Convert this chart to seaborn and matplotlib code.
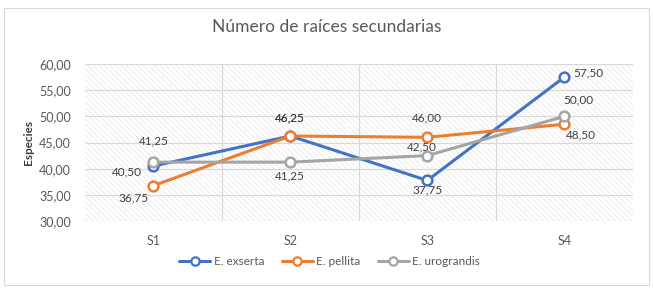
import numpy as np
import pandas as pd
import seaborn as sns
import matplotlib.pyplot as plt
from matplotlib.patches import Rectangle
from matplotlib.lines import Line2D

# data
muestreos = ["S1", "S2", "S3", "S4"]
exserta = [40.50, 46.25, 37.75, 57.50]
pellita = [36.75, 46.25, 46.00, 48.50]
urograndis = [41.25, 41.25, 42.50, 50.00]
especies = ["E. exserta", "E. pellita", "E. urograndis"]
colores = ["#4472C4", "#ED7D31", "#A5A5A5"]

df = pd.DataFrame({
    "Muestreo": muestreos * 3,
    "Valor": exserta + pellita + urograndis,
    "Especie": np.repeat(especies, len(muestreos)),
})

sns.set_style("white")
plt.rcParams["font.family"] = ["Lato", "DejaVu Sans"]
plt.rcParams["hatch.linewidth"] = 0.5

fig = plt.figure(figsize=(6.53, 2.90), dpi=100)
ax = fig.add_axes([0.130, 0.238, 0.839, 0.541])

# hatched plot area
bg = Rectangle((0, 0), 1, 1, transform=ax.transAxes, facecolor="white",
               edgecolor="#e6e6e6", hatch="\\\\\\\\\\\\", linewidth=0, zorder=0)
ax.add_patch(bg)

sns.lineplot(data=df, x="Muestreo", y="Valor", hue="Especie", palette=colores,
             marker="o", markersize=7, markerfacecolor="white", markeredgewidth=1.8,
             linewidth=2.2, ax=ax, legend=False, zorder=3)
for ln in ax.lines:
    ln.set_markeredgecolor(ln.get_color())

ax.set_xlim(-0.5, 3.5)
ax.set_ylim(30, 60)
ax.set_yticks(np.arange(30, 61, 5))
ax.set_yticklabels([f"{v:.2f}".replace(".", ",") for v in np.arange(30, 61, 5)])
ax.set_xticks(range(4))
ax.set_xticks([0.5, 1.5, 2.5], minor=True)
ax.grid(True, axis="y", color="#d9d9d9", linewidth=0.8)
ax.grid(True, axis="x", which="minor", color="#d9d9d9", linewidth=0.8)
ax.grid(False, axis="x", which="major")
for s in ax.spines.values():
    s.set_visible(False)
ax.tick_params(axis="both", which="both", length=0, labelsize=9, colors="#595959")
ax.tick_params(axis="x", pad=10)
ax.tick_params(axis="y", pad=10)
ax.set_xlabel("")
ax.set_ylabel("Especies", fontsize=8.5, fontweight="bold", color="#404040", labelpad=4)

fig.suptitle("Número de raíces secundarias", x=0.5, y=0.935, fontsize=12.5,
             color="#595959", fontweight="normal")

# data labels (offsets in points)
etiquetas = [
    (exserta, [(-19, -4), (0, 13), (0, -7), (17, 3)]),
    (pellita, [(-14, -9), (0, 13), (0, 14), (12, -8)]),
    (urograndis, [(0, 15), (0, -10), (-4, 6), (10, 12)]),
]
for valores, offs in etiquetas:
    for i, (v, off) in enumerate(zip(valores, offs)):
        ax.annotate(f"{v:.2f}".replace(".", ","), (i, v), xytext=off,
                    textcoords="offset points", ha="center", va="center",
                    fontsize=8.5, color="#404040", zorder=4)

handles = [Line2D([], [], color=c, marker="o", markerfacecolor="white",
                  markeredgewidth=1.6, markersize=6, linewidth=2.2) for c in colores]
fig.legend(handles, especies, loc="center", bbox_to_anchor=(0.505, 0.097), ncol=3,
           frameon=False, fontsize=8.5, handlelength=2.6, columnspacing=1.5,
           handletextpad=0.3, labelcolor="#595959")

# chart border
fig.patches.append(Rectangle((0.006, 0.017), 0.988, 0.955, transform=fig.transFigure,
                             fill=False, edgecolor="#d9d9d9", linewidth=0.8))

fig.savefig("out.png", dpi=100)
